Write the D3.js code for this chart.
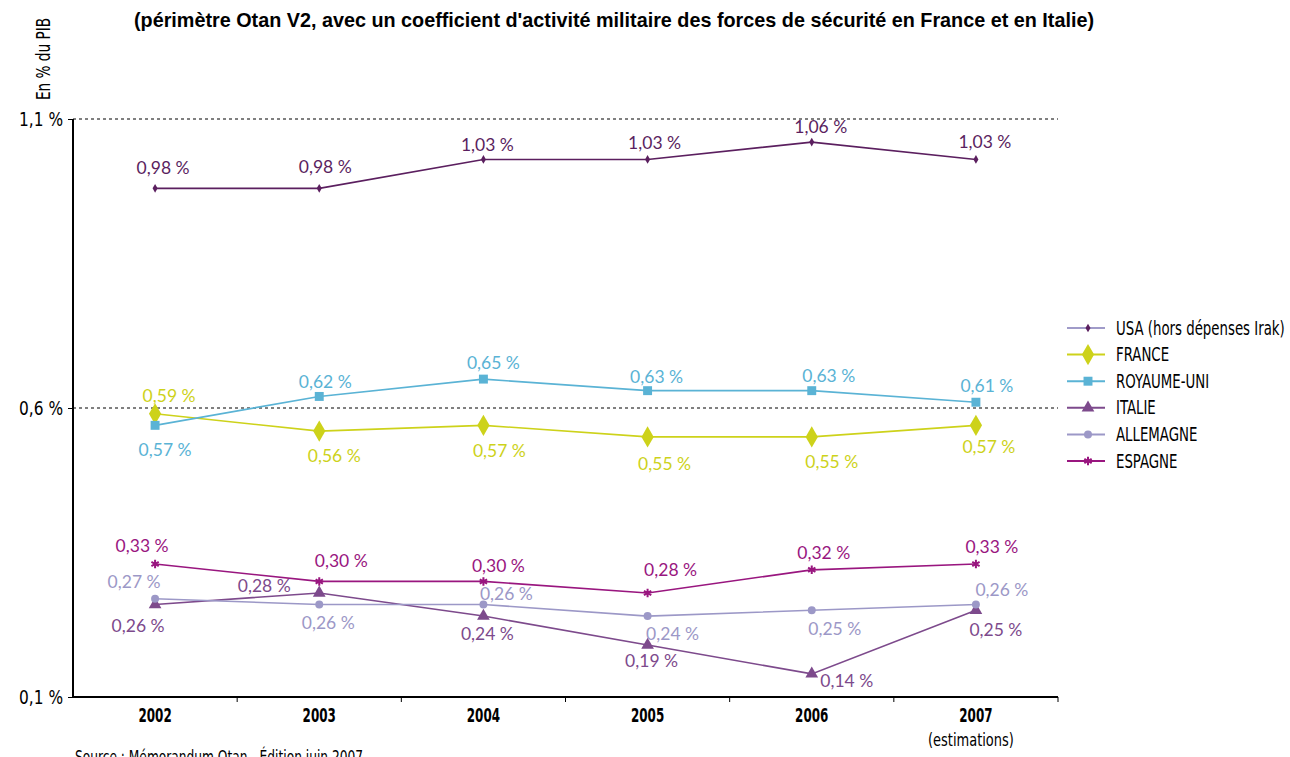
<!DOCTYPE html>
<html>
<head>
<meta charset="utf-8">
<script src="https://cdn.jsdelivr.net/npm/d3@7"></script>
<style>
  body { margin: 0; background: #fff; }
  .narrow { font-family: "DejaVu Sans Condensed", "DejaVu Sans", sans-serif; }
  .lbl { font-family: Lato, "Open Sans", sans-serif; font-size: 17.5px; }
</style>
</head>
<body>
<div id="chart"></div>
<script>
// données
const years = ["2002", "2003", "2004", "2005", "2006", "2007"];
const seriesNames = ["USA (hors dépenses Irak)", "FRANCE", "ROYAUME-UNI", "ITALIE", "ALLEMAGNE", "ESPAGNE"];
const usa = [0.98, 0.98, 1.03, 1.03, 1.06, 1.03];
const france = [0.59, 0.56, 0.57, 0.55, 0.55, 0.57];
const royaumeUni = [0.57, 0.62, 0.65, 0.63, 0.63, 0.61];
const italie = [0.26, 0.28, 0.24, 0.19, 0.14, 0.25];
const allemagne = [0.27, 0.26, 0.26, 0.24, 0.25, 0.26];
const espagne = [0.33, 0.30, 0.30, 0.28, 0.32, 0.33];
const yTicks = [0.1, 0.6, 1.1];

const W = 1290, H = 757;
const margin = { top: 119, right: 232, bottom: 60, left: 73 };
const width = W - margin.left - margin.right;
const height = H - margin.top - margin.bottom;

// styles par série
const colors = ["#5b1f5f", "#cdd21a", "#5ab3d5", "#7d4a8c", "#9c98c7", "#99167f"];
const symbols = [d3.symbolDiamond, d3.symbolDiamond, d3.symbolSquare, d3.symbolTriangle, d3.symbolCircle, d3.symbolAsterisk];
const symSizes = [22, 130, 80, 70, 50, 50];
// placement des étiquettes (dx, dy du centre par rapport au point)
const labelOffsets = [
  [[8, -20], [6, -21], [4, -15], [7, -17], [9, -15], [9, -18]],
  [[14, -18], [15, 25], [16, 26], [17, 27], [20, 25], [13, 22]],
  [[10, 25], [6, -15], [10, -16], [9, -14], [17, -15], [11, -16]],
  [[-17, 21], [-55, -7], [4, 18], [4, 16], [35, 7], [20, 20]],
  [[-21, -17], [9, 18], [23, -11], [25, 18], [23, 19], [26, -15]],
  [[-13, -18], [22, -21], [15, -16], [23, -23], [12, -17], [16, -17]]
];

const allValues = [usa, france, royaumeUni, italie, allemagne, espagne];
const series = seriesNames.map((name, i) => ({
  name, color: colors[i], symbol: symbols[i], size: symSizes[i], offsets: labelOffsets[i],
  values: allValues[i].map((v, j) => ({ year: years[j], value: v }))
}));

const svg = d3.select("#chart").append("svg")
  .attr("width", W).attr("height", H);

const g = svg.append("g")
  .attr("transform", `translate(${margin.left},${margin.top})`);

const x = d3.scaleBand().domain(years).range([0, width]);
const y = d3.scaleLinear().domain([0.1, 1.1]).range([height, 0]);
const cx = d => x(d) + x.bandwidth() / 2;
const fmt = v => d3.format(".1f")(v).replace(".", ",") + " %";
const fmt2 = v => d3.format(".2f")(v).replace(".", ",") + " %";

// titre
svg.append("text")
  .attr("x", 614).attr("y", 27)
  .attr("text-anchor", "middle")
  .style("font-family", "'Liberation Sans', Arial, sans-serif")
  .style("font-weight", "bold").style("font-size", "19.8px")
  .text("(périmètre Otan V2, avec un coefficient d'activité militaire des forces de sécurité en France et en Italie)");

// titre axe Y
svg.append("text")
  .attr("class", "narrow")
  .attr("transform", "translate(50,59) rotate(-90) scale(0.8,1)")
  .attr("text-anchor", "middle")
  .style("font-size", "19px")
  .text("En % du PIB");

// lignes pointillées
g.selectAll(".grid").data(yTicks.slice(1)).join("line")
  .attr("x1", 0).attr("x2", width)
  .attr("y1", d => y(d)).attr("y2", d => y(d))
  .attr("stroke", "#000").attr("stroke-width", 1)
  .attr("stroke-dasharray", "3,3");

// axe Y
const yAxis = g.append("g")
  .call(d3.axisLeft(y).tickValues(yTicks).tickFormat(fmt).tickSize(5));
yAxis.select(".domain").attr("stroke-width", 2).attr("d", `M0,${height}V0`);
yAxis.selectAll("text").attr("class", "narrow")
  .style("font-size", "19px").attr("fill", "#000")
  .attr("x", -10 / 0.9).attr("transform", "scale(0.9,1)");

// axe X
const xAxis = g.append("g")
  .attr("transform", `translate(0,${height})`)
  .call(d3.axisBottom(x).tickSize(0).tickPadding(12));
xAxis.select(".domain").attr("stroke-width", 2).attr("d", `M0,0H${width}`);
xAxis.selectAll("text").attr("class", "narrow")
  .style("font-size", "19px").style("font-weight", "bold").attr("fill", "#000")
  .attr("transform", "scale(0.7,1)");
xAxis.selectAll(".tick").filter(d => d === "2007").append("text")
  .attr("class", "narrow")
  .attr("x", -5 / 0.78).attr("y", 49).attr("fill", "#000")
  .attr("transform", "scale(0.78,1)")
  .style("font-size", "18.5px")
  .text("(estimations)");
// graduations entre les années
g.selectAll(".xt").data(years.slice(1).concat(["end"])).join("line")
  .attr("x1", d => d === "end" ? width : x(d))
  .attr("x2", d => d === "end" ? width : x(d))
  .attr("y1", height).attr("y2", height + 5)
  .attr("stroke", "#000").attr("stroke-width", 1);

// séries
const line = d3.line().x(d => cx(d.year)).y(d => y(d.value));

series.forEach(s => {
  g.append("path")
    .datum(s.values)
    .attr("fill", "none")
    .attr("stroke", s.color)
    .attr("stroke-width", 1.6)
    .attr("d", line);

  const sym = d3.symbol().type(s.symbol).size(s.size);
  g.selectAll(null).data(s.values).join("path")
    .attr("transform", d => `translate(${cx(d.year)},${y(d.value)})`)
    .attr("d", sym)
    .attr("fill", s.symbol === d3.symbolAsterisk ? "none" : s.color)
    .attr("stroke", s.symbol === d3.symbolAsterisk ? s.color : "none")
    .attr("stroke-width", 2);

  g.selectAll(null).data(s.values).join("text")
    .attr("class", "lbl")
    .attr("x", (d, i) => cx(d.year) + s.offsets[i][0])
    .attr("y", (d, i) => y(d.value) + s.offsets[i][1])
    .attr("dy", "0.35em")
    .attr("text-anchor", "middle")
    .attr("fill", s.color)
    .text(d => fmt2(d.value));
});

// légende
const legend = svg.append("g").attr("transform", "translate(1067,328)");
series.forEach((s, i) => {
  const row = legend.append("g").attr("transform", `translate(0,${i * 26.6})`);
  row.append("line")
    .attr("x1", 0).attr("x2", 38)
    .attr("stroke", i === 0 ? "#a09bc9" : s.color).attr("stroke-width", 2);
  row.append("path")
    .attr("transform", "translate(21,0)")
    .attr("d", d3.symbol().type(s.symbol).size(s.size)())
    .attr("fill", s.symbol === d3.symbolAsterisk ? "none" : s.color)
    .attr("stroke", s.symbol === d3.symbolAsterisk ? s.color : "none")
    .attr("stroke-width", 2);
  row.append("text")
    .attr("class", "narrow")
    .attr("x", 49 / 0.78).attr("dy", "0.35em")
    .attr("transform", "scale(0.78,1)")
    .style("font-size", "19px").attr("fill", "#000")
    .text(s.name);
});

// source
svg.append("text")
  .attr("class", "narrow")
  .attr("x", 75 / 0.8).attr("y", 763)
  .attr("transform", "scale(0.8,1)")
  .style("font-size", "17px")
  .text("Source : Mémorandum Otan - Édition juin 2007");
</script>
</body>
</html>
